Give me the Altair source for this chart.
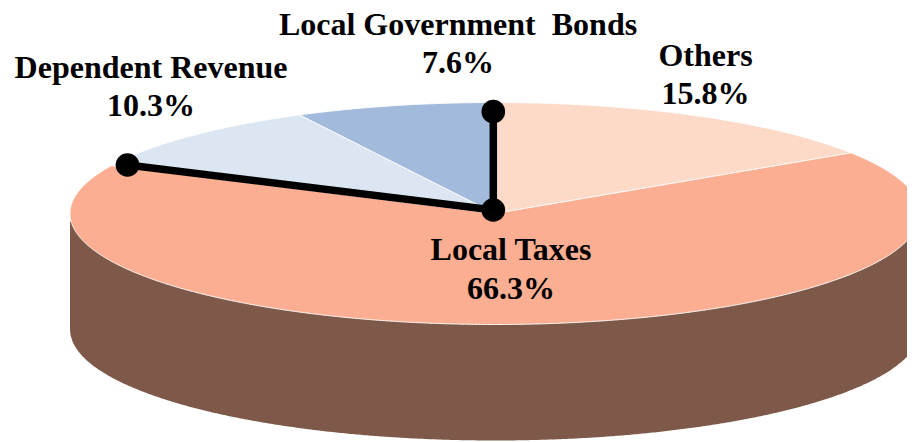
import numpy as np
import pandas as pd
import altair as alt

# ---- chart values ----
categories = ["Others", "Local Taxes", "Dependent Revenue", "Local Government\u00a0 Bonds"]
shares = [15.8, 66.3, 10.3, 7.6]
share_labels = ["15.8%", "66.3%", "10.3%", "7.6%"]
colors = ["#FDD9C8", "#FBAE91", "#DCE6F2", "#A2BADC"]
side_color = "#7E594A"

# ---- layout (in page pixels) ----
CX, CY, RX, RY, DEPTH = 495.0, 213.5, 425.0, 111.0, 116.0
LABEL_ANCHORS = {
    "Others": (705.5, 66, 104),
    "Local Taxes": (511, 260, 299),
    "Dependent Revenue": (151, 78, 116),
    "Local Government\u00a0 Bonds": (458, 35, 73),
}
HUB = (493.3, 210.0)
LEADER_ENDS = {"Dependent Revenue": (127.5, 165.0), "Local Government\u00a0 Bonds": (493.3, 111.7)}


def wedge_rows(name, start, end):
    """Vertical spans of one elliptical wedge; angles are clockwise from 12 o'clock."""
    t = np.linspace(start, end, max(int((end - start) * 240), 8))
    px = np.concatenate([[CX], CX + RX * np.sin(t), [CX]])
    py = np.concatenate([[CY], CY - RY * np.cos(t), [CY]])
    xs = np.unique(np.concatenate([px, np.arange(np.ceil(px.min()), px.max(), 1.5)]))
    rows = []
    x0, x1, y0, y1 = px[:-1], px[1:], py[:-1], py[1:]
    for x in xs:
        hit = (np.minimum(x0, x1) <= x) & (x <= np.maximum(x0, x1)) & (x0 != x1)
        if not hit.any():
            continue
        ys = y0[hit] + (x - x0[hit]) * (y1[hit] - y0[hit]) / (x1[hit] - x0[hit])
        rows.append({"category": name, "x": round(float(x), 2),
                     "top": round(float(ys.min()), 2), "bottom": round(float(ys.max()), 2)})
    return rows


rows = []
turn = 0.0
for name, share in zip(categories, shares):
    nxt = turn + share / sum(shares)
    rows += wedge_rows(name, 2 * np.pi * turn, 2 * np.pi * nxt)
    turn = nxt
wedges = pd.DataFrame(rows)

sx = np.concatenate([[CX - RX], np.arange(CX - RX + 0.5, CX + RX, 2), [CX + RX]])
half = RY * np.sqrt(np.clip(1 - ((sx - CX) / RX) ** 2, 0, 1))
side = pd.DataFrame({"x": sx, "top": CY + 8 + half * 0, "bottom": CY + DEPTH + half})

X = alt.X("x:Q", scale=alt.Scale(domain=[8, 907], nice=False, zero=False), axis=None)
YS = alt.Scale(domain=[8, 442], reverse=True, nice=False, zero=False)
Y = alt.Y("top:Q", scale=YS, axis=None, stack=None)
YP = alt.Y("y:Q", scale=YS, axis=None)

side_layer = alt.Chart(side).mark_area(color=side_color, opacity=1, interpolate="linear").encode(
    x=X, y=Y, y2="bottom:Q")

slice_layer = alt.Chart(wedges).mark_area(stroke="white", strokeWidth=1, opacity=1, interpolate="linear").encode(
    x=X, y=Y, y2="bottom:Q",
    color=alt.Color("category:N", scale=alt.Scale(domain=categories, range=colors), legend=None),
)

leader_rows = []
dot_rows = [{"x": HUB[0], "y": HUB[1]}]
for name, (lx, ly) in LEADER_ENDS.items():
    leader_rows += [{"leader": name, "step": 0, "x": HUB[0], "y": HUB[1]},
                    {"leader": name, "step": 1, "x": lx, "y": ly}]
    dot_rows.append({"x": lx, "y": ly})

leader_layer = alt.Chart(pd.DataFrame(leader_rows)).mark_line(color="black", strokeWidth=7.5).encode(
    x=X, y=YP, detail="leader:N", order="step:Q")
dot_layer = alt.Chart(pd.DataFrame(dot_rows)).mark_point(
    filled=True, color="black", opacity=1, size=560, shape="circle").encode(x=X, y=YP)

text_rows = []
for name, label in zip(categories, share_labels):
    ax, y1, y2 = LABEL_ANCHORS[name]
    text_rows += [{"text": name, "x": ax, "y": y1}, {"text": label, "x": ax, "y": y2}]
text_layer = alt.Chart(pd.DataFrame(text_rows)).mark_text(
    font="Liberation Serif", fontWeight="bold", fontSize=32, color="black",
    align="center", baseline="alphabetic").encode(x=X, y=YP, text="text:N")

chart = alt.layer(
    side_layer, slice_layer, leader_layer, dot_layer, text_layer
).properties(
    width=899, height=434, padding=0, background="white",
    autosize=alt.AutoSizeParams(type="none"),
).configure_view(stroke=None)

chart.save("out.html", embed_options={"renderer": "svg", "actions": False})
